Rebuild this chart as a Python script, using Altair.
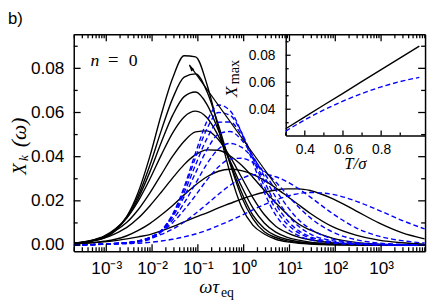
import altair as alt
import pandas as pd

# ---------------- data ----------------
# sample positions, log10(omega * tau_eq)
log_omega = [-3.69, -3.30, -3.05, -2.80, -2.55, -2.30, -2.05, -1.80, -1.55, -1.30, -1.05, -0.80, -0.55,
             -0.30, -0.05, 0.20, 0.45, 0.70, 0.95, 1.20, 1.45, 1.95, 2.45, 2.95, 3.45, 3.95]

# solid black curves, T/sigma = 1.0 ... 0.3
black_t10 = [0.0007, 0.0018, 0.0031, 0.0065, 0.013, 0.024, 0.040, 0.059, 0.0756, 0.0857, 0.0852, 0.0726, 0.0528,
             0.0328, 0.0174, 0.009, 0.005, 0.0026, 0.0014, 0.0008, 0.00045, 0.00014, 0.00005, 0, 0, 0]
black_t09 = [0.0007, 0.002, 0.0035, 0.007, 0.0128, 0.0224, 0.036, 0.0518, 0.0664, 0.076, 0.0775, 0.0694, 0.0542,
             0.037, 0.022, 0.012, 0.006, 0.0034, 0.0019, 0.0011, 0.0006, 0.0002, 0.00007, 0, 0, 0]
black_t08 = [0.0008, 0.002, 0.0037, 0.007, 0.0123, 0.0212, 0.033, 0.0464, 0.0588, 0.0672, 0.0693, 0.0636, 0.0518,
             0.0375, 0.024, 0.0135, 0.0075, 0.0042, 0.0025, 0.0015, 0.0009, 0.0003, 0.0001, 0, 0, 0]
black_t07 = [0.0008, 0.0022, 0.004, 0.0073, 0.0123, 0.020, 0.0298, 0.0407, 0.0508, 0.058, 0.0606, 0.0576, 0.0493,
             0.0382, 0.0267, 0.0168, 0.010, 0.0058, 0.0035, 0.0022, 0.0013, 0.0005, 0.0002, 0.00007, 0, 0]
black_t06 = [0.0009, 0.0022, 0.0037, 0.0065, 0.0103, 0.0161, 0.0235, 0.0319, 0.0402, 0.047, 0.0512, 0.0517, 0.0477,
             0.0401, 0.0308, 0.0215, 0.0138, 0.0085, 0.0055, 0.0036, 0.0024, 0.0009, 0.0003, 0.0001, 0, 0]
black_t05 = [0.0008, 0.0019, 0.0031, 0.0052, 0.008, 0.0122, 0.0177, 0.0239, 0.0304, 0.0364, 0.0409, 0.0431, 0.0429,
             0.0404, 0.0362, 0.0307, 0.0248, 0.0191, 0.0139, 0.0095, 0.0068, 0.003, 0.0012, 0.0004, 0.0001, 0]
black_t04 = [0.0006, 0.0011, 0.0017, 0.0026, 0.0042, 0.0066, 0.0097, 0.0136, 0.0179, 0.0227, 0.0272, 0.0309, 0.0334,
             0.0343, 0.0337, 0.032, 0.0293, 0.0259, 0.0221, 0.0182, 0.0144, 0.0082, 0.0045, 0.0022, 0.001, 0.0004]
black_t03 = [0.0005, 0.001, 0.0014, 0.002, 0.0028, 0.0037, 0.0047, 0.0064, 0.0083, 0.0105, 0.0126, 0.0146, 0.0168,
             0.0188, 0.0208, 0.0225, 0.0239, 0.0249, 0.0254, 0.0254, 0.0247, 0.0209, 0.0155, 0.010, 0.0056, 0.0028]

# dashed blue curves, T/sigma = 1.0 ... 0.3
blue_t10 = [0.0001, 0.0002, 0.0004, 0.0006, 0.0009, 0.0014, 0.0026, 0.006, 0.0137, 0.0262, 0.0418, 0.0561, 0.0634,
            0.0609, 0.0511, 0.0374, 0.0239, 0.0135, 0.0075, 0.0042, 0.0024, 0.0008, 0.0003, 0.0001, 0, 0]
blue_t09 = [0.0001, 0.0002, 0.0004, 0.0006, 0.0009, 0.0015, 0.003, 0.0065, 0.014, 0.0253, 0.0396, 0.0527, 0.060,
            0.0588, 0.0511, 0.0393, 0.0266, 0.0162, 0.0095, 0.0055, 0.0032, 0.0011, 0.0004, 0.0001, 0, 0]
blue_t08 = [0.0001, 0.0002, 0.0004, 0.0007, 0.001, 0.0016, 0.0032, 0.0065, 0.0133, 0.0237, 0.0363, 0.0483, 0.0556,
            0.0557, 0.0499, 0.040, 0.0288, 0.0186, 0.0112, 0.0065, 0.0038, 0.0014, 0.0005, 0.0002, 0, 0]
blue_t07 = [0.0001, 0.0002, 0.0004, 0.0007, 0.001, 0.0017, 0.0034, 0.0066, 0.0128, 0.0219, 0.0327, 0.0432, 0.0502,
            0.0514, 0.0477, 0.0403, 0.031, 0.0217, 0.0139, 0.0085, 0.005, 0.0019, 0.0007, 0.0002, 0, 0]
blue_t06 = [0.0001, 0.0002, 0.0004, 0.0007, 0.0011, 0.0018, 0.0034, 0.0062, 0.0114, 0.019, 0.0279, 0.0368, 0.0435,
            0.046, 0.0443, 0.0394, 0.0325, 0.0249, 0.0175, 0.0114, 0.0073, 0.0027, 0.001, 0.0003, 0.0001, 0]
blue_t05 = [0.0001, 0.0002, 0.0004, 0.0007, 0.0011, 0.0019, 0.0034, 0.006, 0.0101, 0.0159, 0.0225, 0.0295, 0.0354,
            0.0389, 0.0393, 0.0374, 0.0335, 0.0285, 0.0228, 0.0172, 0.0124, 0.0058, 0.0024, 0.0009, 0.0003, 0.0001]
blue_t04 = [0.0001, 0.0002, 0.0004, 0.0006, 0.001, 0.0018, 0.003, 0.0048, 0.0072, 0.0104, 0.0143, 0.0186, 0.023,
            0.027, 0.030, 0.0318, 0.032, 0.0309, 0.0286, 0.0255, 0.0218, 0.0141, 0.0078, 0.004, 0.002, 0.0009]
blue_t03 = [0.0001, 0.0002, 0.0003, 0.0004, 0.0006, 0.0008, 0.0012, 0.0018, 0.0026, 0.0037, 0.005, 0.0067, 0.0088,
            0.011, 0.0134, 0.0159, 0.0183, 0.0204, 0.0221, 0.0233, 0.0238, 0.0229, 0.0199, 0.0157, 0.0112, 0.0073]

t_labels = ["1.0", "0.9", "0.8", "0.7", "0.6", "0.5", "0.4", "0.3"]
black_series = [black_t10, black_t09, black_t08, black_t07, black_t06, black_t05, black_t04, black_t03]
blue_series = [blue_t10, blue_t09, blue_t08, blue_t07, blue_t06, blue_t05, blue_t04, blue_t03]

# inset: maximum vs T/sigma
inset_t = [0.3, 0.4, 0.5, 0.6, 0.7, 0.8, 0.9, 1.0]
inset_black = [0.0255, 0.0343, 0.0431, 0.0517, 0.0606, 0.0694, 0.0780, 0.0868]
inset_blue = [0.0238, 0.0321, 0.0395, 0.0460, 0.0517, 0.0565, 0.0605, 0.0636]

# arrow (tail -> head) in data units
arrow_omega = [5.27, 0.0653]
arrow_x = [0.0265, 0.0816]
arrow_head = [0.0703, 0.0803]

# ticks
x_major = [1e-3, 1e-2, 1e-1, 1e0, 1e1, 1e2, 1e3]
x_exp_sup = ["⁻³", "⁻²", "⁻¹", "⁰", "¹", "²", "³"]
y_major = [0.0, 0.02, 0.04, 0.06, 0.08]
y_minor = [0.01, 0.03, 0.05, 0.07, 0.09]
inset_x_major = [0.4, 0.6, 0.8]
inset_x_minor = [0.3, 0.5, 0.7, 0.9]
inset_y_major = [0.04, 0.06, 0.08]
inset_y_minor = [0.03, 0.05, 0.07, 0.09]

# ---------------- build tables ----------------
def long_table(series):
    rows = []
    for lab, ys in zip(t_labels, series):
        for u, v in zip(log_omega, ys):
            rows.append({"T": lab, "omega": 10 ** u, "X": v})
    return pd.DataFrame(rows)

df_black = long_table(black_series)
df_blue = long_table(blue_series)
df_inset = pd.DataFrame({"T": inset_t, "black": inset_black, "blue": inset_blue})
df_arrow = pd.DataFrame({"x1": [arrow_omega[0]], "y1": [arrow_x[0]], "x2": [arrow_omega[1]], "y2": [arrow_x[1]]})
df_head = pd.DataFrame({"x": [arrow_head[0]], "y": [arrow_head[1]]})

x_minor = [m * 10 ** k for k in range(-4, 4) for m in range(2, 10)
           if 10 ** -3.71 <= m * 10 ** k <= 10 ** 3.96]

W, H = 358, 221
SANS = "Liberation Sans"
SERIF = "Liberation Serif"
MAJ, MIN = 7, 4
IX0, IY0 = 216, 103   # inset left / bottom edge inside the plot

main_x = alt.Scale(type="log", domain=[10 ** -3.71, 10 ** 3.96], nice=False)
main_y = alt.Scale(domain=[-0.0028, 0.0954], nice=False, zero=False)
in_x = alt.Scale(domain=[0.30, 1.03], range=[IX0, W], nice=False, zero=False)
in_y = alt.Scale(domain=[0.0206, 0.0955], range=[IY0, 0], nice=False, zero=False)

common = dict(title=None, grid=False, labelColor="black", domainColor="black", labelFont=SANS,
              ticks=False, domain=True, domainWidth=1.5)

ax_x_lab = alt.Axis(orient="bottom", values=x_major,
                    labelExpr="'10' + " + str(x_exp_sup).replace('"', "'") + "[round(log(datum.value)/LN10)+3]",
                    labelFontSize=17.5, labelPadding=9, labelFlush=False, labelOverlap=False, **common)
ax_y_lab = alt.Axis(orient="left", values=y_major, format=".2f", labelFontSize=17.5, labelPadding=10, **common)
ax_x_top = alt.Axis(orient="bottom", offset=-H, values=x_major, labels=False, **common)
ax_y_right = alt.Axis(orient="left", offset=-W, values=y_major, labels=False, **common)
ax_ix_lab = alt.Axis(orient="bottom", offset=-(H - IY0), values=inset_x_major, format=".1f",
                     labelFontSize=14, labelPadding=7, labelFlush=False, **common)
ax_iy_lab = alt.Axis(orient="left", offset=-IX0, values=inset_y_major, format=".2f",
                     labelFontSize=14, labelPadding=11, **common)

black = alt.Chart(df_black).mark_line(color="black", strokeWidth=1.4, interpolate="monotone", clip=True).encode(
    x=alt.X("omega:Q", scale=main_x, axis=ax_x_lab),
    y=alt.Y("X:Q", scale=main_y, axis=ax_y_lab),
    detail="T:N")

blue = alt.Chart(df_blue).mark_line(color="#0000ff", strokeWidth=1.4, strokeDash=[5, 3], interpolate="monotone",
                                    clip=True).encode(
    x=alt.X("omega:Q", scale=main_x, axis=None),
    y=alt.Y("X:Q", scale=main_y, axis=None),
    detail="T:N")

arrow = alt.Chart(df_arrow).mark_rule(color="black", strokeWidth=1.2).encode(
    x=alt.X("x1:Q", scale=main_x, axis=ax_x_top), x2="x2:Q",
    y=alt.Y("y1:Q", scale=main_y, axis=ax_y_right), y2="y2:Q")

head = alt.Chart(df_head).mark_point(shape="M0,-1L0.55,1L-0.55,1Z", filled=True, size=45, angle=324,
                                     color="black", opacity=1).encode(
    x=alt.X("x:Q", scale=main_x, axis=None),
    y=alt.Y("y:Q", scale=main_y, axis=None))

inset_b = alt.Chart(df_inset).mark_line(color="black", strokeWidth=1.4).encode(
    x=alt.X("T:Q", scale=in_x, axis=ax_ix_lab),
    y=alt.Y("black:Q", scale=in_y, axis=ax_iy_lab))

inset_bl = alt.Chart(df_inset).mark_line(color="#0000ff", strokeWidth=1.4, strokeDash=[5, 3],
                                         interpolate="monotone").encode(
    x=alt.X("T:Q", scale=in_x, axis=None),
    y=alt.Y("blue:Q", scale=in_y, axis=None))


# inward tick marks, positioned through the scales
def xticks(vals, scale, edge, length, inward):
    return alt.Chart(pd.DataFrame({"v": vals})).mark_tick(
        color="black", thickness=1.3, size=length, orient="vertical", opacity=1).encode(
        x=alt.X("v:Q", scale=scale, axis=None), y=alt.value(edge + inward * length / 2))


def yticks(vals, scale, edge, length, inward):
    return alt.Chart(pd.DataFrame({"v": vals})).mark_tick(
        color="black", thickness=1.3, size=length, orient="horizontal", opacity=1).encode(
        y=alt.Y("v:Q", scale=scale, axis=None), x=alt.value(edge + inward * length / 2))


ticks = [
    xticks(x_major, main_x, H, MAJ, -1), xticks(x_minor, main_x, H, MIN, -1),
    xticks(x_major, main_x, 0, MAJ, 1), xticks(x_minor, main_x, 0, MIN, 1),
    yticks(y_major, main_y, 0, MAJ, 1), yticks(y_minor, main_y, 0, MIN, 1),
    yticks(y_major, main_y, W, MAJ, -1), yticks(y_minor, main_y, W, MIN, -1),
    xticks(inset_x_major, in_x, IY0, 5, -1), xticks(inset_x_minor, in_x, IY0, 3, -1),
    yticks(inset_y_major, in_y, IX0, 5, 1), yticks(inset_y_minor, in_y, IX0, 3, 1),
]


def label(txt, x, y, size, font=SERIF, style="normal", angle=0, align="left"):
    return alt.Chart(pd.DataFrame({"t": [txt]})).mark_text(
        font=font, fontSize=size, fontStyle=style, angle=angle, align=align, baseline="alphabetic",
        color="black").encode(text="t:N", x=alt.value(x), y=alt.value(y))


texts = [
    label("b)", -67, -11, 17, font=SANS),
    label("n", 17, 32, 18, style="italic"),
    label("=", 35, 32, 19),
    label("0", 56, 32, 18),
    label("X", -49, 143, 19, style="italic", angle=270),
    label("k", -47, 129, 13.5, style="italic", angle=270),
    label("(ω)", -49, 115, 22, style="italic", angle=270),
    label("ωτ", 128, 264, 19, style="italic"),
    label("eq", 150, 268, 14),
    label("X", 166, 64, 18, style="italic", angle=270),
    label("max", 168, 51, 14.5, angle=270),
    label("T/σ", 287, 137, 17, style="italic", align="center"),
]

chart = alt.layer(black, blue, arrow, head, inset_b, inset_bl, *ticks, *texts).resolve_scale(
    x="independent", y="independent"
).properties(
    width=W, height=H,
    autosize=alt.AutoSizeParams(type="none"),
    padding={"left": 67, "top": 24, "right": 3, "bottom": 52},
    background="white",
).configure_view(stroke=None)

chart.save("out.html", embed_options={"renderer": "svg", "actions": False})
